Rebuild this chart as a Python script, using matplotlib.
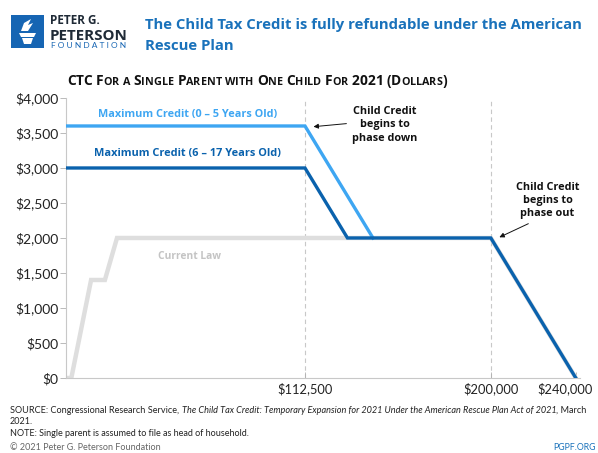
#!/usr/bin/env python3
import matplotlib
matplotlib.use('Agg')
import matplotlib.pyplot as plt
import matplotlib.ticker as ticker
import matplotlib.transforms as mtransforms
from matplotlib.patches import Rectangle, Polygon

# income breakpoints ($) and credit ($)
current_x = [0, 2500, 11800, 18300, 24000, 200000, 240000]
current_y = [0, 0, 1400, 1400, 2000, 2000, 0]
older_x = [0, 112500, 132500, 200000, 240000]
older_y = [3000, 3000, 2000, 2000, 0]
younger_x = [0, 112500, 144500]
younger_y = [3600, 3600, 2000]
xticks = [112500, 200000, 240000]
yticks = [0, 500, 1000, 1500, 2000, 2500, 3000, 3500, 4000]

LIGHT = '#3ea6f2'
DARK = '#0a62ad'
GRAY = '#dedede'
NAVY = '#1f2a36'
COND = dict(family='Open Sans', fontstretch='condensed', fontweight='bold')

plt.rcParams['font.family'] = ['Lato', 'DejaVu Sans']

fig = plt.figure(figsize=(5.98, 4.53), dpi=100)
ax = fig.add_axes([0.1104, 0.1656, 0.8596, 0.6181])
renderer = fig.canvas.get_renderer()


def fit(t, width):
    # shrink/grow a text object so it spans `width` pixels
    w = t.get_window_extent(renderer).width
    t.set_fontsize(t.get_fontsize() * width / w)
    return t


ax.axvline(112500, color='#c8c8c8', ls=(0, (4, 3)), lw=0.8, zorder=1)
ax.axvline(200000, color='#c8c8c8', ls=(0, (4, 3)), lw=0.8, zorder=1)

ax.plot(current_x, current_y, color=GRAY, lw=3.2, solid_joinstyle='miter', zorder=2)
ax.plot(younger_x, younger_y, color=LIGHT, lw=2.4, solid_joinstyle='miter', zorder=3)
ax.plot(older_x, older_y, color=DARK, lw=2.4, solid_joinstyle='miter', zorder=4)

ax.set_xlim(0, 242000)
ax.set_ylim(0, 4000)
ax.set_xticks(xticks)
ax.set_yticks(yticks)
ax.xaxis.set_major_formatter(ticker.FuncFormatter(lambda v, p: '${:,.0f}'.format(v)))
ax.yaxis.set_major_formatter(ticker.FuncFormatter(lambda v, p: '${:,.0f}'.format(v)))
ax.tick_params(axis='y', length=4, width=0.6, color='#b0b0b0', labelsize=10, labelcolor='#222222', pad=1.5)
ax.tick_params(axis='x', direction='in', length=4, width=0.6, color='#b0b0b0', labelsize=9.3, labelcolor='#222222', pad=3)
for s in ['top', 'right']:
    ax.spines[s].set_visible(False)
for s in ['left', 'bottom']:
    ax.spines[s].set_color('#c8c8c8')
    ax.spines[s].set_linewidth(0.8)

# last income label pulled in from the right edge
last = ax.xaxis.get_major_ticks()[-1].label1
last.set_transform(last.get_transform() + mtransforms.ScaledTranslation(-0.11, 0, fig.dpi_scale_trans))

fit(ax.text(57000, 3770, 'Maximum Credit (0 \u2013 5 Years Old)', color=LIGHT, fontsize=9,
            ha='center', va='center', **COND), 178)
fit(ax.text(57000, 3210, 'Maximum Credit (6 \u2013 17 Years Old)', color=DARK, fontsize=9,
            ha='center', va='center', **COND), 188)
fit(ax.text(58000, 1740, 'Current Law', color='#c4c4c4', fontsize=9,
            ha='center', va='center', **COND), 63)

lbl = dict(fontsize=7.8, color='#111111', ha='center', va='top', linespacing=1.26)
ax.annotate('Child Credit\nbegins to\nphase down', xy=(116500, 3590), xytext=(150000, 3880),
            arrowprops=dict(arrowstyle='-|>', color='#111111', lw=0.7, mutation_scale=7,
                            shrinkA=2, shrinkB=0, relpos=(0.0, 0.55)), **lbl, **COND)
ax.annotate('Child Credit\nbegins to\nphase out', xy=(204000, 2010), xytext=(226700, 2800),
            arrowprops=dict(arrowstyle='-|>', color='#111111', lw=0.7, mutation_scale=7,
                            shrinkA=3, shrinkB=0, relpos=(0.35, 0.0)), **lbl, **COND)


def px(x, y):
    return x / 598, 1 - y / 453


def put_runs(x, y, runs, width=None, **common):
    # lay text pieces side by side, positions in figure pixels
    texts = []
    x0 = x
    for txt, kw in runs:
        t = fig.text(*px(x, y), txt, va='baseline', ha='left', **{**common, **kw})
        x += t.get_window_extent(renderer).width
        texts.append(t)
    if width:
        k = width / (x - x0)
        x = x0
        for t in texts:
            t.set_fontsize(t.get_fontsize() * k)
            t.set_x(x / 598)
            x += t.get_window_extent(renderer).width


# logo block
fig.patches.append(Rectangle(px(11, 48), 33 / 598, 33 / 453, transform=fig.transFigure,
                             facecolor='#1665b3', edgecolor='none'))
for poly in ([(19, 33), (36, 33), (34, 37), (21, 37)],
             [(22, 38), (33, 38), (31, 44), (24, 44)],
             [(21, 31), (24, 23), (31, 19), (28, 25), (33, 23), (28, 31)]):
    fig.patches.append(Polygon([px(a, b) for a, b in poly], closed=True,
                               transform=fig.transFigure, facecolor='white', edgecolor='none'))
fit(fig.text(*px(50, 24.5), 'PETER G.', fontsize=10, color=NAVY, **COND), 50)
fit(fig.text(*px(49.5, 39.5), 'PETERSON', fontsize=14, color=NAVY, **COND), 78)
fit(fig.text(*px(51, 48.5), 'F O U N D A T I O N', fontsize=6.3, color='#1665b3', family='Lato'), 75)

title = fit(fig.text(*px(145, 28.5), 'The Child Tax Credit is fully refundable under the American',
                     fontsize=12, color='#1a72bb', **COND), 437)
fig.text(*px(145, 50.5), 'Rescue Plan', fontsize=title.get_fontsize(), color='#1a72bb', **COND)

# small-caps subtitle
big, small = 10.5, 8.2
words = ['CTC', 'For', 'a', 'Single', 'Parent', 'with', 'One', 'Child', 'For', '2021', '(Dollars)']
runs = []
for i, w in enumerate(words):
    if i:
        runs.append((' ', dict(fontsize=big)))
    for ch in w:
        if ch.isupper() or ch.isdigit() or ch in '()':
            runs.append((ch, dict(fontsize=big)))
        else:
            runs.append((ch.upper(), dict(fontsize=small)))
put_runs(67, 85, runs, width=378, color='#111111', **COND)

fs = 6.5
put_runs(10, 413, [('SOURCE: Congressional Research Service, ', {}),
                   ('The Child Tax Credit: Temporary Expansion for 2021 Under the American Rescue Plan Act of 2021',
                    dict(style='italic')),
                   (', March', {})], width=578, fontsize=fs, color='#222222')
fig.text(*px(10, 424), '2021.', fontsize=fs, color='#222222')
fig.text(*px(10, 436), 'NOTE: Single parent is assumed to file as head of household.',
         fontsize=fs, color='#222222')
fig.text(*px(10, 450), '\u00a9 2021 Peter G. Peterson Foundation', fontsize=fs, color='#666666')
fig.text(*px(596, 450), 'PGPF.ORG', fontsize=6.3, color='#1a72bb', ha='right')

fig.savefig('out.png', dpi=100)
